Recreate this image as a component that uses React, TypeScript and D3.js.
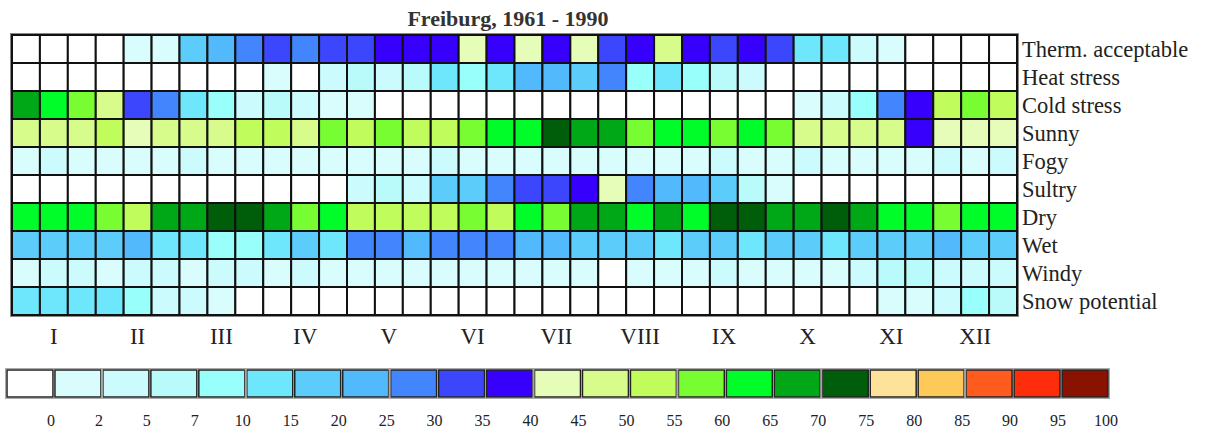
import React from 'react';
import * as d3 from 'd3';

const title = 'Freiburg, 1961 - 1990';
const rowNames = ['Therm. acceptable', 'Heat stress', 'Cold stress', 'Sunny', 'Fogy', 'Sultry', 'Dry', 'Wet', 'Windy', 'Snow potential'];
const months = ['I', 'II', 'III', 'IV', 'V', 'VI', 'VII', 'VIII', 'IX', 'X', 'XI', 'XII'];

// percent of days per decade (3 decades per month)
const thermAcceptable = [0,0,0,0,1,1,17,22,27, 32,27,32,32,37,37,37,42,37, 42,37,42,32,37,47,37,32,37, 32,12,12,3,1,0,0,0,0];
const heatStress = [0,0,0,0,0,0,0,0,0, 1,0,3,6,3,6,12,8,12, 22,22,17,27,8,12,8,6,3, 0,0,0,0,0,0,0,0,0];
const coldStress = [67,62,57,47,32,27,12,8,3, 6,3,1,1,0,0,0,0,0, 0,0,0,0,0,0,0,0,0, 0,1,3,8,27,37,52,57,52];
const sunny = [47,47,47,52,42,47,47,47,52, 52,47,57,52,57,52,52,57,62, 62,72,67,67,57,62,62,57,62, 57,47,47,47,47,37,42,42,42];
const fogy = [1,3,1,1,1,1,3,1,1, 1,1,1,1,1,1,3,1,1, 1,1,1,1,1,1,1,3,1, 1,3,1,1,1,1,3,1,3];
const sultry = [0,0,0,0,0,0,0,0,0, 0,0,0,3,6,3,17,17,27, 32,32,37,42,27,22,22,17,6, 1,0,0,0,0,0,0,0,0];
const dry = [62,62,62,57,52,67,67,72,72, 67,57,62,52,52,52,52,57,52, 62,57,67,67,62,67,62,72,72, 67,67,72,67,62,62,57,62,62];
const wet = [17,17,17,17,22,12,12,8,8, 12,17,12,27,27,22,27,27,27, 22,22,17,17,17,12,17,17,12, 17,17,12,17,17,17,22,17,17];
const windy = [1,3,3,1,3,3,1,3,3, 1,3,1,1,1,1,1,1,1, 1,1,1,0,1,1,1,3,1, 1,1,1,3,6,6,3,3,3];
const snowPotential = [12,12,12,12,8,3,3,1,0, 0,0,0,0,0,0,0,0,0, 0,0,0,0,0,0,0,0,0, 0,0,0,0,1,1,3,8,6];

const series = [thermAcceptable, heatStress, coldStress, sunny, fogy, sultry, dry, wet, windy, snowPotential];

const legendTicks = [0, 2, 5, 7, 10, 15, 20, 25, 30, 35, 40, 45, 50, 55, 60, 65, 70, 75, 80, 85, 90, 95, 100];
const palette = [
  '#ffffff', '#d9fdfd', '#ccfbfd', '#b9fbfb', '#99fffb', '#6ee6fb', '#5ccdfb', '#53b9fd',
  '#4285fc', '#3c47fd', '#3700fd', '#e6fcb9', '#d7fc8c', '#c0fc5b', '#78fd32', '#00fd2a',
  '#00a818', '#005e0a', '#fde39a', '#fdca5a', '#ff5b1f', '#ff2e0a', '#8a1200'
];
const legendGroups = [2, 3, 3, 3, 3, 3, 3, 3];

const font = '"Liberation Serif", "Times New Roman", serif';

export default function App() {
  const width = 1207, height = 432;
  const left = 12, right = 1017, top = 35, bottom = 315;

  const cols = d3.range(36);
  const x = d3.scaleBand<number>().domain(cols).range([left, right]);
  const y = d3.scaleBand<string>().domain(rowNames).range([top, bottom]);
  const monthX = d3.scaleBand<string>().domain(months).range([left, right]);

  const color = d3.scaleThreshold<number, string>()
    .domain([0.5, ...legendTicks.slice(1, 22)])
    .range(palette);

  const lx = d3.scaleBand<number>().domain(d3.range(palette.length)).range([6, 1109]);
  const ly0 = 370, lh = 27;

  let start = 0;
  const groups = legendGroups.map(n => {
    const g = { from: start, to: start + n - 1 };
    start += n;
    return g;
  });

  return (
    <svg width={width} height={height} style={{ position: 'absolute', left: 0, top: 0, background: '#fff' }}>
      <text x={508} y={26} textAnchor="middle" fontFamily={font} fontWeight="bold" fontSize={22} fill="#333">{title}</text>

      <rect x={left - 1} y={top - 1} width={right - left + 2} height={bottom - top + 2} fill="none" stroke="#888" strokeWidth={2} />
      {series.map((vals, r) => (
        <g key={r}>
          {vals.map((v, c) => (
            <rect key={c} x={x(c)} y={y(rowNames[r])} width={x.bandwidth()} height={y.bandwidth()}
                  fill={color(v)} stroke="#111" strokeWidth={2} />
          ))}
        </g>
      ))}

      {rowNames.map(n => (
        <text key={n} x={right + 5} y={(y(n) as number) + y.bandwidth() / 2 + 8} fontFamily={font} fontSize={22.5} fill="#222">{n}</text>
      ))}

      {months.map(m => (
        <text key={m} x={(monthX(m) as number) + monthX.bandwidth() / 2} y={344} textAnchor="middle" fontFamily={font} fontSize={23} fill="#222">{m}</text>
      ))}

      {palette.map((c, i) => (
        <rect key={i} x={(lx(i) as number) + 1} y={ly0} width={lx.bandwidth() - 2} height={lh} fill={c} stroke="#222" strokeWidth={1.5} />
      ))}
      {groups.map((g, i) => (
        <rect key={i} x={(lx(g.from) as number) - 0.5} y={ly0 - 1.5} width={(lx(g.to) as number) + lx.bandwidth() - (lx(g.from) as number) + 1} height={lh + 3}
              fill="none" stroke="#aaa" strokeWidth={1} />
      ))}
      {legendTicks.map((t, i) => (
        <text key={t} x={(lx(i) as number) + lx.bandwidth() - 3} y={426} textAnchor="middle" fontFamily={font} fontSize={16} fill="#222">{t}</text>
      ))}
    </svg>
  );
}
